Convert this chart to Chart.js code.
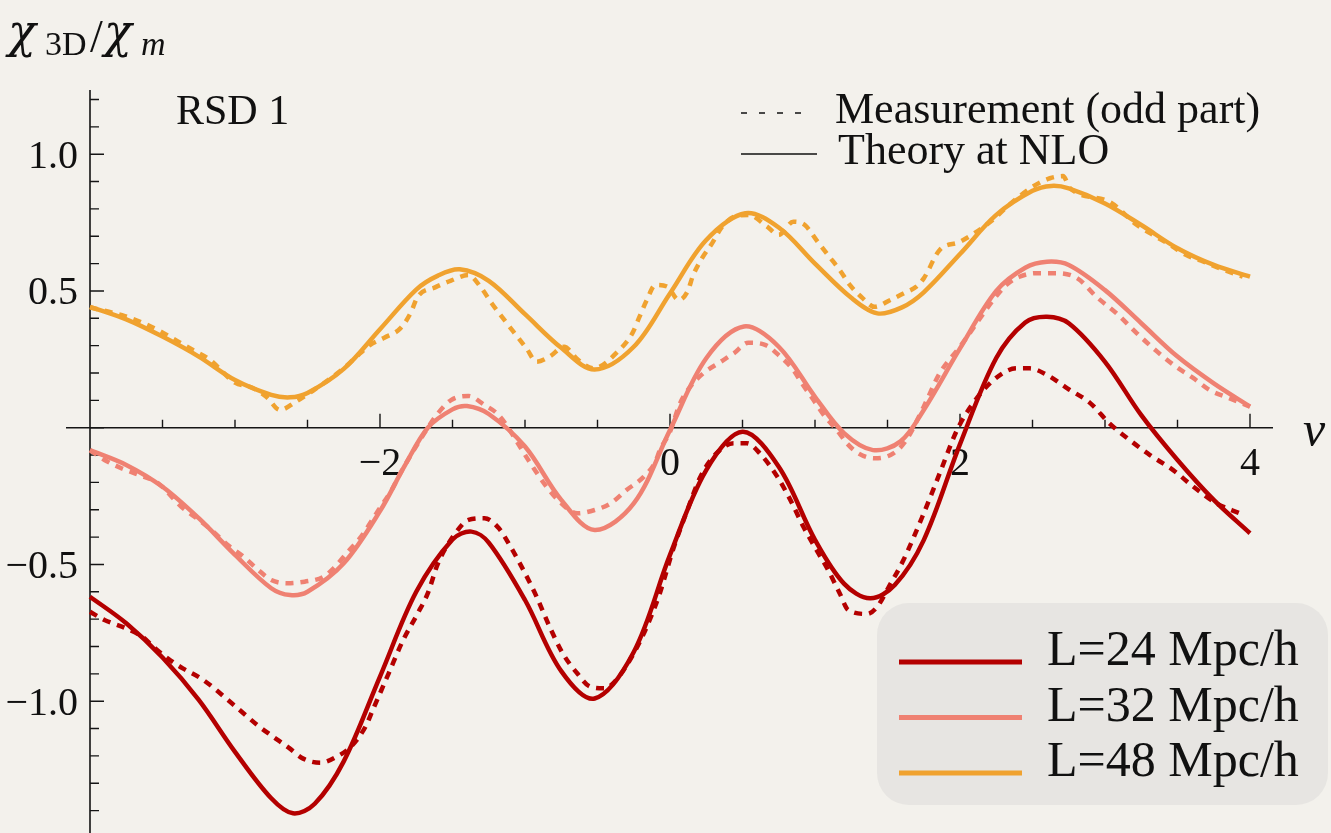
<!DOCTYPE html>
<html>
<head>
<meta charset="utf-8">
<script src="https://cdn.jsdelivr.net/npm/chart.js@4.4.1/dist/chart.umd.min.js"></script>
<style>
  html, body { margin: 0; padding: 0; background: #f3f1ec; }
  canvas { display: block; }
</style>
</head>
<body>
<canvas id="chi" width="1331" height="833"></canvas>
<script>
// ---- series metadata -------------------------------------------------------
const seriesNames  = ['L=24 Mpc/h', 'L=32 Mpc/h', 'L=48 Mpc/h'];
const seriesColors = ['#b40000', '#ef8172', '#f0a22f'];
const styleNames   = ['Measurement (odd part)', 'Theory at NLO'];

// ---- axis ticks ------------------------------------------------------------
const xTickValues = [-2, 0, 2, 4];
const xTickLabels = ['\u22122', '0', '2', '4'];
const yTickValues = [-1.0, -0.5, 0.5, 1.0];
const yTickLabels = ['\u22121.0', '\u22120.5', '0.5', '1.0'];

// ---- L = 24 Mpc/h ----------------------------------------------------------
const theoryNu24 = [-4,-3.75,-3.5,-3.25,-3,-2.75,-2.6,-2.45,-2.25,-2,-1.75,-1.5,-1.37,-1.25,-1,-0.75,-0.52,-0.25,0,0.25,0.5,0.75,1,1.2,1.38,1.55,1.75,2,2.25,2.45,2.6,2.75,3,3.25,3.5,3.75,4];
const theory24   = [-0.618,-0.715,-0.84,-0.995,-1.185,-1.355,-1.41,-1.375,-1.22,-0.91,-0.6,-0.409,-0.38,-0.42,-0.63,-0.89,-0.99,-0.82,-0.465,-0.155,-0.015,-0.143,-0.41,-0.57,-0.624,-0.575,-0.411,-0.06,0.255,0.385,0.406,0.382,0.241,0.046,-0.118,-0.264,-0.386];
const measNu24 = [-4,-3.9,-3.75,-3.64,-3.55,-3.46,-3.36,-3.24,-3.15,-3.05,-2.94,-2.84,-2.75,-2.63,-2.53,-2.41,-2.3,-2.2,-2.1,-2.05,-1.99,-1.94,-1.84,-1.74,-1.67,-1.6,-1.48,-1.39,-1.28,-1.18,-1.1,-1,-0.92,-0.83,-0.74,-0.64,-0.55,-0.45,-0.37,-0.25,-0.16,-0.07,0.02,0.12,0.21,0.32,0.44,0.53,0.62,0.74,0.83,0.92,1.01,1.09,1.17,1.23,1.36,1.43,1.51,1.61,1.75,1.86,1.98,2.09,2.23,2.39,2.48,2.6,2.74,2.9,3.03,3.17,3.31,3.47,3.61,3.77,3.93];
const meas24   = [-0.673,-0.703,-0.734,-0.764,-0.807,-0.845,-0.88,-0.915,-0.95,-0.995,-1.045,-1.09,-1.125,-1.17,-1.21,-1.225,-1.203,-1.166,-1.093,-1.032,-0.959,-0.898,-0.776,-0.679,-0.605,-0.496,-0.386,-0.337,-0.331,-0.368,-0.435,-0.532,-0.618,-0.728,-0.825,-0.898,-0.947,-0.953,-0.922,-0.825,-0.728,-0.605,-0.447,-0.301,-0.179,-0.094,-0.057,-0.057,-0.094,-0.179,-0.264,-0.362,-0.447,-0.52,-0.605,-0.667,-0.681,-0.654,-0.581,-0.484,-0.313,-0.167,-0.008,0.089,0.174,0.217,0.217,0.193,0.144,0.089,0.016,-0.045,-0.1,-0.155,-0.216,-0.277,-0.313];

// ---- L = 32 Mpc/h ----------------------------------------------------------
const theoryNu32 = [-4,-3.75,-3.5,-3.25,-3,-2.75,-2.62,-2.5,-2.25,-2,-1.83,-1.67,-1.5,-1.4,-1.25,-1,-0.75,-0.52,-0.25,0,0.25,0.51,0.75,1,1.2,1.4,1.59,1.75,2,2.25,2.45,2.6,2.75,3,3.25,3.5,3.75,4];
const theory32   = [-0.082,-0.136,-0.216,-0.331,-0.465,-0.587,-0.612,-0.6,-0.496,-0.305,-0.14,0.0,0.067,0.079,0.05,-0.069,-0.264,-0.374,-0.277,-0.008,0.254,0.37,0.296,0.113,-0.02,-0.082,-0.05,0.065,0.29,0.5,0.585,0.607,0.595,0.503,0.382,0.26,0.162,0.077];
const measNu32 = [-4,-3.9,-3.78,-3.66,-3.53,-3.37,-3.25,-3.15,-3.05,-2.94,-2.84,-2.75,-2.64,-2.52,-2.39,-2.32,-2.22,-2.13,-2.01,-1.92,-1.86,-1.67,-1.6,-1.51,-1.39,-1.28,-1.18,-0.97,-0.86,-0.76,-0.64,-0.52,-0.41,-0.3,-0.18,-0.1,-0.07,0,0.07,0.14,0.23,0.35,0.44,0.54,0.66,0.76,0.85,0.91,0.99,1.07,1.15,1.22,1.3,1.41,1.54,1.63,1.75,1.86,2,2.23,2.32,2.41,2.53,2.67,2.81,2.94,3.08,3.22,3.36,3.49,3.61,3.72,3.86,4];
const meas32   = [-0.082,-0.118,-0.149,-0.173,-0.203,-0.289,-0.337,-0.38,-0.429,-0.472,-0.52,-0.557,-0.569,-0.563,-0.545,-0.514,-0.453,-0.398,-0.301,-0.228,-0.167,0.0,0.053,0.101,0.116,0.083,0.045,-0.124,-0.21,-0.271,-0.313,-0.301,-0.277,-0.228,-0.179,-0.124,-0.082,-0.015,0.09,0.15,0.199,0.241,0.272,0.311,0.302,0.26,0.211,0.162,0.101,0.04,-0.008,-0.057,-0.094,-0.112,-0.094,-0.045,0.077,0.199,0.296,0.467,0.522,0.552,0.565,0.565,0.546,0.479,0.418,0.345,0.278,0.223,0.181,0.138,0.107,0.077];

// ---- L = 48 Mpc/h ----------------------------------------------------------
const theoryNu48 = [-4,-3.75,-3.5,-3.25,-3,-2.75,-2.62,-2.5,-2.25,-2,-1.75,-1.6,-1.45,-1.25,-1,-0.75,-0.52,-0.25,0,0.25,0.52,0.75,1,1.25,1.43,1.6,1.75,2,2.25,2.5,2.63,2.75,3,3.25,3.5,3.75,4];
const theory48   = [0.442,0.396,0.333,0.26,0.174,0.12,0.111,0.127,0.215,0.36,0.505,0.556,0.579,0.537,0.415,0.292,0.213,0.296,0.491,0.686,0.784,0.732,0.6,0.475,0.418,0.44,0.495,0.635,0.778,0.866,0.884,0.875,0.82,0.741,0.656,0.595,0.552];
const measNu48 = [-4,-3.76,-3.63,-3.51,-3.4,-3.29,-3.18,-3,-2.88,-2.78,-2.69,-2.58,-2.48,-2.26,-2.17,-2.07,-1.97,-1.86,-1.79,-1.74,-1.62,-1.51,-1.39,-1.3,-1.23,-1.16,-1.08,-0.99,-0.92,-0.83,-0.73,-0.64,-0.53,-0.35,-0.26,-0.21,-0.16,-0.1,-0.02,0.06,0.12,0.16,0.22,0.29,0.36,0.44,0.54,0.67,0.75,0.85,0.93,1.01,1.09,1.17,1.24,1.33,1.41,1.52,1.61,1.7,1.75,1.86,2,2.21,2.35,2.51,2.62,2.71,2.76,3.03,3.22,3.33,3.45,3.56,3.68,3.79,3.95];
const meas48   = [0.44,0.408,0.382,0.351,0.317,0.284,0.251,0.165,0.146,0.111,0.065,0.095,0.129,0.213,0.256,0.302,0.329,0.363,0.418,0.479,0.513,0.538,0.558,0.51,0.455,0.406,0.351,0.29,0.241,0.26,0.296,0.251,0.217,0.284,0.345,0.406,0.467,0.522,0.516,0.467,0.497,0.558,0.619,0.674,0.735,0.771,0.778,0.735,0.705,0.753,0.741,0.686,0.631,0.577,0.522,0.473,0.442,0.467,0.491,0.516,0.546,0.65,0.68,0.753,0.82,0.884,0.912,0.92,0.875,0.826,0.741,0.705,0.668,0.631,0.607,0.583,0.552];

// ---------------------------------------------------------------------------
const SERIF = '"Liberation Serif", "Times New Roman", serif';
const pairUp = (nu, vals) => nu.map((v, i) => ({ x: v, y: vals[i] }));

// theory curves are smooth splines; measured curves follow their points closely
function curve(label, nu, vals, color, dashed) {
  return {
    label,
    data: pairUp(nu, vals),
    borderColor: color,
    backgroundColor: color,
    borderWidth: 4.5,
    borderDash: dashed ? [8, 7] : [],
    borderCapStyle: 'butt',
    borderJoinStyle: 'round',
    cubicInterpolationMode: dashed ? 'monotone' : 'default',
    tension: dashed ? 0 : 0.34,
    pointRadius: 0,
    fill: false
  };
}

const datasets = [
  curve(seriesNames[0] + ' theory', theoryNu24, theory24, seriesColors[0], false),
  curve(seriesNames[1] + ' theory', theoryNu32, theory32, seriesColors[1], false),
  curve(seriesNames[2] + ' theory', theoryNu48, theory48, seriesColors[2], false),
  curve(seriesNames[0] + ' measurement', measNu24, meas24, seriesColors[0], true),
  curve(seriesNames[1] + ' measurement', measNu32, meas32, seriesColors[1], true),
  curve(seriesNames[2] + ' measurement', measNu48, meas48, seriesColors[2], true)
];

// paper-coloured backdrop
const paper = {
  id: 'paper',
  beforeDraw(chart) {
    const { ctx, width, height } = chart;
    ctx.save();
    ctx.fillStyle = '#f3f1ec';
    ctx.fillRect(0, 0, width, height);
    ctx.restore();
  }
};

// crossing axes: vertical axis at ν = −4, horizontal axis at χ = 0
const axesFrame = {
  id: 'axesFrame',
  beforeDatasetsDraw(chart) {
    const { ctx, chartArea: a, scales: { x, y } } = chart;
    const ax = x.getPixelForValue(-4);
    const ay = y.getPixelForValue(0);
    ctx.save();
    ctx.strokeStyle = '#151515';
    ctx.lineWidth = 1.6;
    ctx.beginPath();
    ctx.moveTo(a.left, ay); ctx.lineTo(a.right, ay);
    ctx.moveTo(ax, a.top); ctx.lineTo(ax, a.bottom);
    ctx.stroke();

    // ticks along ν, every 0.5, pointing up
    ctx.lineWidth = 1.4;
    ctx.beginPath();
    for (let k = -7; k <= 8; k++) {
      const v = k / 2;
      const px = x.getPixelForValue(v);
      const len = xTickValues.includes(v) ? 14 : 8;
      ctx.moveTo(px, ay); ctx.lineTo(px, ay - len);
    }
    // ticks along χ, every 0.1, pointing right
    for (let k = -14; k <= 12; k++) {
      const v = k / 10;
      const py = y.getPixelForValue(v);
      const len = (k % 5 === 0) ? 14 : 9;
      ctx.moveTo(ax, py); ctx.lineTo(ax + len, py);
    }
    ctx.stroke();

    // tick labels
    ctx.fillStyle = '#111';
    ctx.font = '40px ' + SERIF;
    ctx.textBaseline = 'alphabetic';
    ctx.textAlign = 'center';
    xTickValues.forEach((v, i) => {
      ctx.fillText(xTickLabels[i], x.getPixelForValue(v), ay + 47);
    });
    ctx.textAlign = 'right';
    yTickValues.forEach((v, i) => {
      ctx.fillText(yTickLabels[i], ax - 12, y.getPixelForValue(v) + 13.5);
    });

    // axis names
    ctx.textAlign = 'left';
    ctx.font = 'italic 50px ' + SERIF;
    ctx.fillText('\u03bd', 1303, ay + 18);
    ctx.font = 'italic 46px "DejaVu Serif", serif';
    ctx.fillText('\u03c7', 8, 47);
    ctx.font = '34px ' + SERIF;
    ctx.fillText('3D', 45, 55);
    ctx.font = '46px ' + SERIF;
    ctx.fillText('/', 90, 52);
    ctx.font = 'italic 46px "DejaVu Serif", serif';
    ctx.fillText('\u03c7', 104, 47);
    ctx.font = 'italic 34px ' + SERIF;
    ctx.fillText('m', 141, 55);

    // panel name
    ctx.font = '42px ' + SERIF;
    ctx.fillText('RSD 1', 176, 124);

    // line-style key
    ctx.strokeStyle = '#111';
    ctx.lineWidth = 1.5;
    ctx.setLineDash([6, 12]);
    ctx.beginPath(); ctx.moveTo(741, 113); ctx.lineTo(803, 113); ctx.stroke();
    ctx.setLineDash([]);
    ctx.beginPath(); ctx.moveTo(741, 154); ctx.lineTo(817, 154); ctx.stroke();
    ctx.font = '44px ' + SERIF;
    ctx.fillText(styleNames[0], 835, 123);
    ctx.fillText(styleNames[1], 838, 164);
    ctx.restore();
  }
};

// colour key in a rounded box
const colourKey = {
  id: 'colourKey',
  afterDatasetsDraw(chart) {
    const { ctx } = chart;
    ctx.save();
    ctx.fillStyle = 'rgba(226, 225, 222, 0.72)';
    ctx.beginPath();
    ctx.roundRect(877, 603, 451, 202, 32);
    ctx.fill();
    ctx.font = '50px ' + SERIF;
    ctx.textAlign = 'left';
    ctx.textBaseline = 'alphabetic';
    seriesNames.forEach((name, i) => {
      const ly = 662 + i * 55.5;
      ctx.strokeStyle = seriesColors[i];
      ctx.lineWidth = 5;
      ctx.beginPath(); ctx.moveTo(899, ly); ctx.lineTo(1022, ly); ctx.stroke();
      ctx.fillStyle = '#111';
      ctx.fillText(name, 1047, ly + 3);
    });
    ctx.restore();
  }
};

new Chart(document.getElementById('chi'), {
  type: 'line',
  data: { datasets },
  options: {
    responsive: false,
    animation: false,
    devicePixelRatio: 1,
    layout: { padding: { left: 66, right: 58, top: 90, bottom: 0 } },
    plugins: {
      legend: { display: false },
      tooltip: { enabled: false },
      title: { display: false }
    },
    scales: {
      x: { type: 'linear', min: -4.1655, max: 4.1586, display: false },
      y: { type: 'linear', min: -1.4819, max: 1.2347, display: false }
    }
  },
  plugins: [paper, axesFrame, colourKey]
});
</script>
</body>
</html>
